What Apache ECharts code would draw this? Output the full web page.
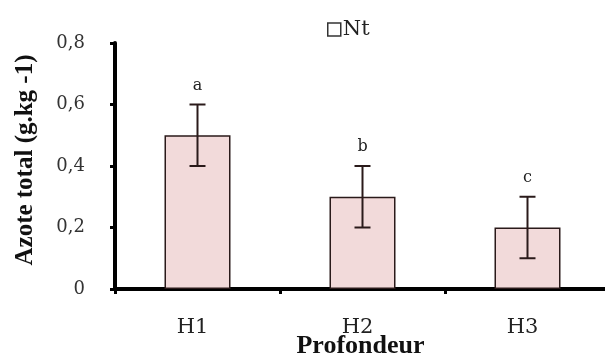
<!DOCTYPE html>
<html><head><meta charset="utf-8">
<script src="https://cdn.jsdelivr.net/npm/echarts@6/dist/echarts.min.js"></script>
<style>html,body{margin:0;padding:0;background:#fff}#c{width:605px;height:360px}</style>
</head><body><div id="c"></div>
<script>
var categories = ['H1', 'H2', 'H3'];
var values = [0.5, 0.3, 0.2];
var errors = [0.1, 0.1, 0.1];
var letters = ['a', 'b', 'c'];
var yTicks = [0, 0.2, 0.4, 0.6, 0.8];

var chart = echarts.init(document.getElementById('c'));
var serif = '"Liberation Serif", "DejaVu Serif", serif';
var wserif = '"DejaVu Serif", "Liberation Serif", serif';
var errData = categories.map(function (c, i) { return [i, values[i] - errors[i], values[i] + errors[i], letters[i]]; });

chart.setOption({
  animation: false,
  backgroundColor: '#fff',
  grid: { left: 115, right: -5, top: 43, bottom: 71, outerBoundsMode: 'none', containLabel: false },
  legend: {
    data: [{ name: 'Nt', icon: 'rect', itemStyle: { color: '#fff', borderColor: '#333', borderWidth: 1.5 } }],
    top: 14, left: 322,
    itemWidth: 13, itemHeight: 13,
    textStyle: { fontFamily: wserif, fontSize: 21, color: '#222', padding: [0, 0, 0, -3] },
    selectedMode: false
  },
  xAxis: {
    type: 'category', data: categories,
    name: 'Profondeur', nameLocation: 'middle', nameGap: 44, nameMoveOverlap: false,
    nameTextStyle: { fontFamily: serif, fontSize: 26, fontWeight: 'bold', color: '#111', padding: [0, 0, 0, -4] },
    axisLine: { lineStyle: { color: '#000', width: 4 } },
    axisTick: { show: true, length: 5, lineStyle: { color: '#000', width: 3 } },
    axisLabel: { fontFamily: wserif, fontSize: 21, color: '#222', margin: 28, padding: [0, 10, 0, 0] }
  },
  yAxis: {
    type: 'value', min: yTicks[0], max: yTicks[yTicks.length - 1], interval: 0.2,
    name: 'Azote total (g.kg -1)', nameLocation: 'middle', nameGap: 77, nameMoveOverlap: false,
    nameTextStyle: { fontFamily: serif, fontSize: 25, fontWeight: 'bold', color: '#111', padding: [0, 0, 0, 12] },
    axisLine: { show: true, lineStyle: { color: '#000', width: 4 } },
    axisTick: { show: true, length: 5, lineStyle: { color: '#000', width: 3 } },
    splitLine: { show: false },
    axisLabel: {
      fontFamily: wserif, fontSize: 18, color: '#333', margin: 30,
      formatter: function (v) { return v === 0 ? '0' : v.toFixed(1).replace('.', ','); }
    }
  },
  series: [
    {
      name: 'Nt', type: 'bar', data: values, barWidth: 66,
      itemStyle: { color: '#f2dada', borderColor: '#2a1a1a', borderWidth: 1.5 }
    },
    {
      name: 'err', type: 'custom', data: errData, z: 5,
      renderItem: function (params, api) {
        var x = api.value(0);
        var lo = api.coord([x, api.value(1)]);
        var hi = api.coord([x, api.value(2)]);
        var hw = 8;
        var st = { stroke: '#2a1a1a', lineWidth: 2 };
        return {
          type: 'group', children: [
            { type: 'line', shape: { x1: lo[0], y1: lo[1], x2: hi[0], y2: hi[1] }, style: st },
            { type: 'line', shape: { x1: lo[0] - hw, y1: lo[1], x2: lo[0] + hw, y2: lo[1] }, style: st },
            { type: 'line', shape: { x1: hi[0] - hw, y1: hi[1], x2: hi[0] + hw, y2: hi[1] }, style: st },
            { type: 'text', style: { text: api.value(3), x: hi[0], y: hi[1] - 19, textAlign: 'center', textVerticalAlign: 'middle', font: '16px ' + wserif, fill: '#222' } }
          ]
        };
      }
    }
  ]
});
</script></body></html>
